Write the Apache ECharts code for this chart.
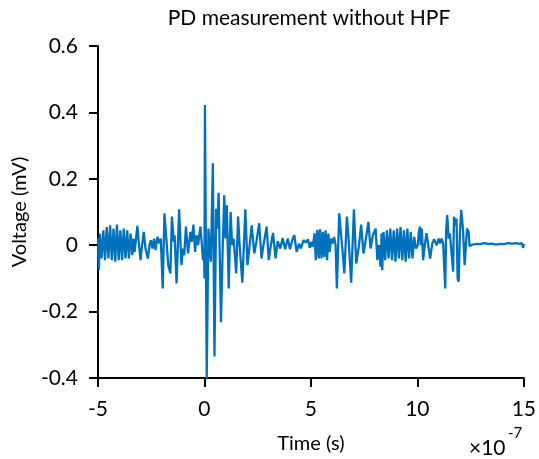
<!DOCTYPE html>
<html>
<head>
<meta charset="utf-8">
<script src="https://cdn.jsdelivr.net/npm/echarts@6/dist/echarts.min.js"></script>
<style>html,body{margin:0;padding:0;background:#fff}#c{width:539px;height:459px}</style>
</head>
<body>
<div id="c"></div>
<script>
// Time in units of 1e-7 s, voltage in mV in segments
var timeA = [-4.99,-4.96,-4.91,-4.83,-4.75,-4.67,-4.59,-4.51,-4.43,-4.35,-4.27,-4.19,-4.11,-4.03,-3.95,-3.87,-3.79,-3.71,-3.63,-3.55,-3.47,-3.39,-3.33,-3.28];
var voltA = [0.02,-0.075,0.035,-0.04,0.045,-0.045,0.055,-0.04,0.06,-0.045,0.05,-0.05,0.062,-0.045,0.045,-0.045,0.05,-0.04,0.045,-0.04,0.035,-0.03,0.02,-0.02];

var timeB = [-3.15,-3.09,-3.00,-2.93,-2.85,-2.77,-2.66,-2.58,-2.52,-2.44,
             -2.37,-2.30,-2.21,-2.12,-2.05,-1.96,-1.88,-1.79,-1.70,-1.60,
             -1.53,-1.44,-1.40,-1.31,-1.19,-1.08,-1.01,-0.95,-0.87,-0.77,
             -0.66,-0.60,-0.52,-0.44,-0.37,-0.30,-0.19,-0.12,-0.07,-0.02,
             0.00,0.023,0.107,0.186,0.256,0.30,0.395,0.47,0.55,0.60,
             0.665,0.777,0.86,0.93,0.99,1.05,1.14,1.23,1.30,1.37,
             1.49,1.58,1.65,1.78,1.92,2.02,2.09,2.22,2.34,2.44,
             2.57,2.68,2.77,2.92,3.02,3.12,3.22,3.34,3.44,3.56,
             3.67,3.79,3.91,4.02,4.12,4.22,4.33,4.44,4.53,4.65,
             4.77,4.86,4.95,5.02,5.09];
var voltB = [0.058,0.01,-0.045,0.0,0.04,-0.01,-0.04,0.0,0.015,-0.01,
             0.02,-0.015,0.025,0.005,0.02,-0.13,0.096,0.02,-0.06,-0.085,
             0.086,0.01,0.03,-0.115,0.108,-0.06,-0.01,-0.03,0.056,-0.025,
             0.04,0.01,0.062,-0.02,0.03,0.0,0.056,0.0,-0.045,-0.02,
             -0.10,0.422,-0.40,0.05,-0.02,-0.05,0.247,-0.335,0.11,0.05,
             0.158,-0.232,0.0,0.15,0.02,0.12,-0.13,0.10,0.0,0.02,
             -0.085,0.086,0.0,-0.113,0.108,-0.06,-0.02,0.06,-0.025,0.01,
             0.066,-0.04,0.0,0.056,-0.045,0.0,0.037,-0.04,0.012,-0.01,
             0.022,-0.012,0.02,-0.012,0.015,0.03,-0.02,0.005,-0.01,0.015,
             0.008,0.018,-0.008,0.01,-0.005];

var timeC = [5.17,5.23,5.30,5.37,5.43,5.50,5.56,5.63,5.69,5.76,5.82,5.88];
var voltC = [0.036,-0.045,0.046,-0.04,0.048,-0.04,0.04,-0.035,0.045,-0.045,0.035,-0.02];

var timeD = [5.95,6.02,6.09,6.16,6.22,6.33,6.42,6.49,6.57,6.69,6.77,6.89,7.02,7.13,
             7.19,7.26,7.36,7.47,7.56,7.70,7.80,7.91,8.04,8.12,8.19,8.27,8.32,8.35];
var voltD = [0.02,0.005,0.025,0.0,-0.13,0.096,0.03,-0.02,-0.085,0.086,0.02,-0.113,0.108,-0.055,
             -0.06,0.0,0.062,-0.025,0.01,0.07,-0.01,0.03,0.05,-0.045,0.0,-0.065,0.036,-0.075];

var timeE = [8.41,8.49,8.57,8.65,8.73,8.81,8.89,8.97,9.05,9.13,
             9.21,9.29,9.37,9.45,9.53,9.61,9.69,9.77,9.85];
var voltE = [0.04,-0.045,0.045,-0.04,0.05,-0.045,0.045,-0.05,0.05,-0.04,
             0.055,-0.045,0.045,-0.05,0.05,-0.04,0.04,-0.04,0.025];

var timeF = [9.93,10.02,10.07,10.12,10.16,10.21,10.27,10.35,10.43,10.51,
             10.60,10.70,10.79,10.91,11.00,11.07,11.14,11.21,11.28,11.31,
             11.35,11.40,11.47,11.53,11.60,11.68,11.72,11.79,11.84,11.89,
             11.94,12.00,12.06,12.14,12.22,12.28,12.33,12.41,12.45,12.58,
             12.77,12.95,13.14,13.33,13.51,13.70,13.88,14.07,14.26,14.44,
             14.63,14.81,14.91,14.97,15.00];
var voltF = [-0.01,0.0,0.04,0.056,0.0,0.05,-0.045,0.0,0.036,0.0,
             -0.04,0.005,0.018,0.0,0.02,0.005,0.02,0.005,0.01,-0.13,
             0.04,0.091,0.02,0.035,-0.02,-0.08,0.086,0.06,0.08,-0.10,
             -0.11,0.04,0.106,0.05,-0.06,0.0,0.05,0.04,-0.003,0.002,
             0.004,0.003,0.006,0.004,0.005,0.002,0.004,0.003,0.006,0.005,
             0.006,0.004,0.006,-0.008,0.004];

var xTickLabels = ['-5','0','5','10','15'];
var yTickLabels = ['-0.4','-0.2','0','0.2','0.4','0.6'];

var timeData = [].concat(timeA, timeB, timeC, timeD, timeE, timeF);
var voltData = [].concat(voltA, voltB, voltC, voltD, voltE, voltF);
var seriesData = timeData.map(function (t, i) { return [t, voltData[i]]; });
var FONT = 'Lato';

var chart = echarts.init(document.getElementById('c'), null, {renderer: 'canvas'});
chart.setOption({
  animation: false,
  backgroundColor: '#ffffff',
  title: {
    text: 'PD measurement without HPF',
    left: 304, top: 3, textAlign: 'center',
    textStyle: {fontFamily: FONT, fontSize: 21, fontWeight: 'normal', color: '#000'}
  },
  grid: {left: 98, right: 11, top: 46, bottom: 81, containLabel: false},
  xAxis: {
    type: 'value', min: -5, max: 15, interval: 5,
    name: 'Time (s)', nameLocation: 'middle', nameGap: 56,
    nameTextStyle: {fontFamily: FONT, fontSize: 20, color: '#000'},
    axisLine: {show: true, onZero: false, lineStyle: {color: '#000', width: 2}},
    axisTick: {show: true, inside: false, length: 9, lineStyle: {color: '#000', width: 2}},
    axisLabel: {
      margin: 21, fontFamily: FONT, fontSize: 21, color: '#000',
      formatter: function (v) { return xTickLabels[Math.round((v + 5) / 5)]; }
    },
    splitLine: {show: false}
  },
  yAxis: {
    type: 'value', min: -0.4, max: 0.6, interval: 0.2,
    name: 'Voltage (mV)', nameLocation: 'middle', nameGap: 68,
    nameTextStyle: {fontFamily: FONT, fontSize: 20, color: '#000'},
    axisLine: {show: true, onZero: false, lineStyle: {color: '#000', width: 2}},
    axisTick: {show: true, inside: false, length: 9, lineStyle: {color: '#000', width: 2}},
    axisLabel: {
      margin: 20, fontFamily: FONT, fontSize: 21, color: '#000',
      formatter: function (v) { return yTickLabels[Math.round((v + 0.4) / 0.2)]; }
    },
    splitLine: {show: false}
  },
  graphic: [
    {type: 'text', left: 469, top: 438,
     style: {text: '×10', fontFamily: FONT, fontSize: 21, fill: '#000'}},
    {type: 'text', left: 508, top: 426,
     style: {text: '-7', fontFamily: FONT, fontSize: 15, fill: '#000'}}
  ],
  series: [{
    type: 'line', data: seriesData, showSymbol: false, symbol: 'none',
    lineStyle: {color: '#0072BD', width: 2.3}, clip: true
  }]
});
</script>
</body>
</html>
